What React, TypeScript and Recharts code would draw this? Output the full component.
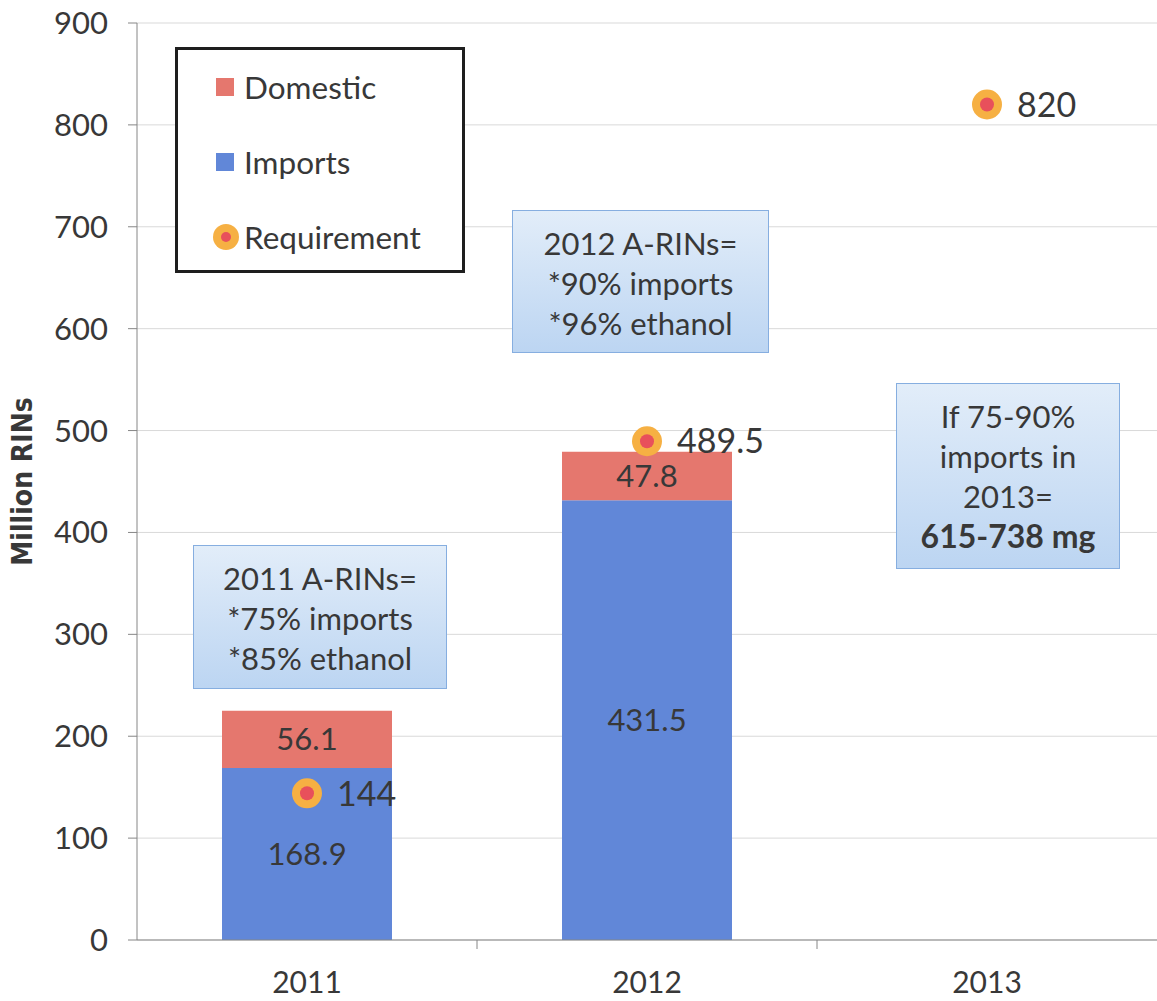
import { Bar, CartesianGrid, ComposedChart, Label, LabelList, Line, XAxis, YAxis } from 'recharts';

const years = ['2011', '2012', '2013'];
const imports = [168.9, 431.5, null];
const domestic = [56.1, 47.8, null];
const requirement = [144, 489.5, 820];
const yTicks = [0, 100, 200, 300, 400, 500, 600, 700, 800, 900];

const notes = [
  { left: 193, top: 545, width: 254, height: 144, lines: ['2011 A-RINs=', '*75% imports', '*85% ethanol'], bold: -1 },
  { left: 512, top: 210, width: 257, height: 143, lines: ['2012 A-RINs=', '*90% imports', '*96% ethanol'], bold: -1 },
  { left: 896, top: 383, width: 224, height: 186, lines: ['If 75-90%', 'imports in', '2013=', '615-738 mg'], bold: 3 },
];

const data = years.map((year, i) => ({ year, imports: imports[i], domestic: domestic[i], requirement: requirement[i] }));

const FONT = 'Lato, "Open Sans", sans-serif';
const BLUE = '#6187d8';
const RED = '#e5776e';
const ORANGE = '#f6b043';
const DOT = '#e8505b';
const TEXT = '#383838';
const X_MARGIN = 32;

function YearTick(props: any) {
  const { x, y, payload, index } = props;
  const half = payload && payload.offset ? payload.offset : 0;
  const axisY = y - X_MARGIN;
  return (
    <g>
      {half > 0 && index > 0 && <line x1={x - half} x2={x - half} y1={axisY} y2={axisY + 9} stroke="#868686" />}
      <text x={x} y={y} dy="0.71em" textAnchor="middle" fill={TEXT} fontSize={30} fontFamily={FONT}>
        {payload.value}
      </text>
    </g>
  );
}

function ReqDot(props: any) {
  const { cx, cy } = props;
  if (cx == null || cy == null) return null;
  return (
    <g>
      <circle cx={cx} cy={cy} r={15} fill={ORANGE} />
      <circle cx={cx} cy={cy} r={7} fill={DOT} />
    </g>
  );
}

function ReqLabel(props: any) {
  const { x, y, value } = props;
  if (value == null) return null;
  return (
    <text x={x + 30} y={y} dy="0.36em" fill={TEXT} fontSize={34} fontFamily={FONT}>
      {value}
    </text>
  );
}

function SegLabel(props: any) {
  const { x, y, width, height, value } = props;
  if (value == null) return null;
  return (
    <text x={x + width / 2} y={y + height / 2} dy="0.36em" textAnchor="middle" fill={TEXT} fontSize={31} fontFamily={FONT}>
      {value}
    </text>
  );
}

function LegendBox() {
  const items = [
    { name: 'Domestic', kind: 'square', color: RED },
    { name: 'Imports', kind: 'square', color: BLUE },
    { name: 'Requirement', kind: 'dot', color: ORANGE },
  ];
  return (
    <div style={{ position: 'absolute', left: 175, top: 47, width: 284, height: 220, border: '3px solid #1e1e1e', background: '#fff', fontFamily: FONT }}>
      {items.map((it, i) => (
        <div key={it.name} style={{ position: 'absolute', left: 34, top: 19 + i * 75, height: 36, display: 'flex', alignItems: 'center', fontSize: 31.5, color: TEXT }}>
          {it.kind === 'square' ? (
            <span style={{ display: 'inline-block', width: 18, height: 18, background: it.color, marginLeft: 4, marginRight: 10 }} />
          ) : (
            <svg width={28} height={28} style={{ marginRight: 4 }}>
              <circle cx={14} cy={14} r={13} fill={ORANGE} />
              <circle cx={14} cy={14} r={5} fill={DOT} />
            </svg>
          )}
          <span>{it.name}</span>
        </div>
      ))}
    </div>
  );
}

export default function App() {
  return (
    <div style={{ position: 'absolute', left: 0, top: 0, width: 1157, height: 1001, background: '#fff' }}>
      <ComposedChart width={1157} height={1001} data={data} margin={{ top: 23, right: 0, bottom: 11, left: 0 }} barCategoryGap="25%">
        <CartesianGrid stroke="#d9d9d9" vertical={false} />
        <XAxis dataKey="year" stroke="#868686" tickLine={false} tickSize={0} tickMargin={X_MARGIN} height={50} tick={YearTick} />
        <YAxis domain={[0, 900]} ticks={yTicks} width={137} stroke="#868686" tickSize={9} tickMargin={20} tick={{ fill: TEXT, fontSize: 31, fontFamily: FONT }}>
          <Label value="Million RINs" angle={-90} position="insideLeft" offset={22} style={{ fill: TEXT, fontSize: 28, fontWeight: 'bold', fontFamily: '"DejaVu Sans Condensed", "Liberation Sans", sans-serif', textAnchor: 'middle' }} />
        </YAxis>
        <Bar dataKey="imports" stackId="a" fill={BLUE} isAnimationActive={false} name="Imports">
          <LabelList dataKey="imports" content={SegLabel} />
        </Bar>
        <Bar dataKey="domestic" stackId="a" fill={RED} isAnimationActive={false} name="Domestic">
          <LabelList dataKey="domestic" content={SegLabel} />
        </Bar>
        <Line dataKey="requirement" stroke="none" dot={ReqDot} activeDot={false} isAnimationActive={false} name="Requirement">
          <LabelList dataKey="requirement" content={ReqLabel} />
        </Line>
      </ComposedChart>
      <LegendBox />
      {notes.map((n) => (
        <div
          key={n.lines[0]}
          style={{
            position: 'absolute', left: n.left, top: n.top, width: n.width, height: n.height, boxSizing: 'border-box',
            border: '1.5px solid #86aee0', background: 'linear-gradient(#e2edf9, #bcd5f2)', textAlign: 'center',
            fontFamily: FONT, fontSize: 31, color: TEXT, lineHeight: '40px', paddingTop: 12,
          }}
        >
          {n.lines.map((l, i) => (
            <div key={l} style={{ fontWeight: i === n.bold ? 'bold' : 'normal', fontSize: i === n.bold ? 32 : 31 }}>{l}</div>
          ))}
        </div>
      ))}
    </div>
  );
}
